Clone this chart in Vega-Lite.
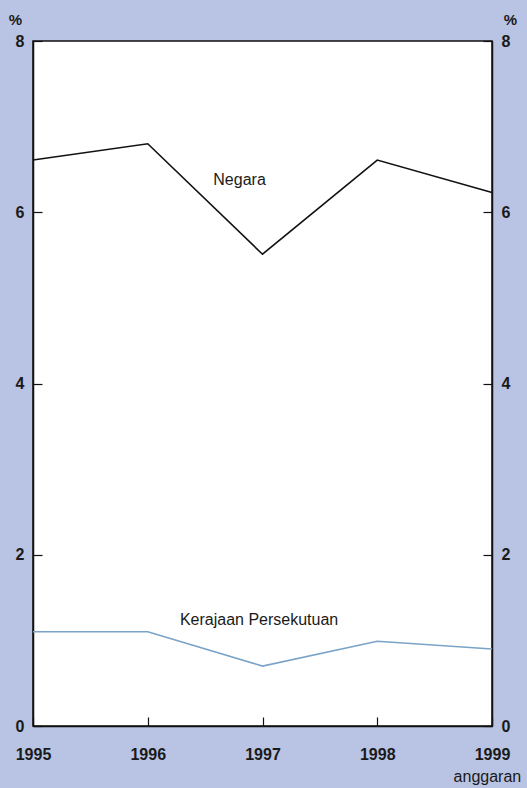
{
  "$schema": "https://vega.github.io/schema/vega-lite/v6.json",
  "width": 459,
  "height": 685,
  "autosize": {"type": "none"},
  "padding": {"left": 33, "top": 41, "right": 35, "bottom": 62},
  "background": "#b9c3e3",
  "config": {
    "view": {"fill": "white", "stroke": "#111", "strokeWidth": 1.5},
    "font": "Liberation Sans",
    "axis": {
      "grid": false,
      "domainColor": "#111",
      "domainWidth": 1.5,
      "tickColor": "#111",
      "tickWidth": 1.2,
      "tickSize": -9,
      "labelFont": "Liberation Sans",
      "labelFontSize": 16,
      "labelFontWeight": "bold",
      "labelColor": "#1a1a1a",
      "titleFont": "Liberation Sans",
      "titleFontSize": 15,
      "titleFontWeight": "bold",
      "titleColor": "#1a1a1a"
    }
  },
  "datasets": {
    "series": [
      {"series": "Negara", "year": 1995, "value": 6.61},
      {"series": "Negara", "year": 1996, "value": 6.8},
      {"series": "Negara", "year": 1997, "value": 5.51},
      {"series": "Negara", "year": 1998, "value": 6.61},
      {"series": "Negara", "year": 1999, "value": 6.23},
      {"series": "Kerajaan Persekutuan", "year": 1995, "value": 1.1},
      {"series": "Kerajaan Persekutuan", "year": 1996, "value": 1.1},
      {"series": "Kerajaan Persekutuan", "year": 1997, "value": 0.7},
      {"series": "Kerajaan Persekutuan", "year": 1998, "value": 0.99},
      {"series": "Kerajaan Persekutuan", "year": 1999, "value": 0.9}
    ],
    "labels": [
      {"text": "Negara", "x": 1996.8, "y": 6.38},
      {"text": "Kerajaan Persekutuan", "x": 1996.97, "y": 1.24},
      {"text": "anggaran", "x": 1998.96, "y": -0.6}
    ]
  },
  "layer": [
    {
      "data": {"name": "series"},
      "mark": {"type": "line", "strokeWidth": 1.6},
      "encoding": {
        "x": {
          "field": "year", "type": "quantitative",
          "scale": {"domain": [1995, 1999], "nice": false},
          "axis": {"title": null, "values": [1995, 1996, 1997, 1998, 1999], "format": "d", "labelPadding": 29, "labelFlush": false}
        },
        "y": {
          "field": "value", "type": "quantitative",
          "scale": {"domain": [0, 8], "nice": false},
          "axis": {"orient": "left", "values": [0, 2, 4, 6, 8], "title": "%", "titleAngle": 0, "titleX": -18, "titleY": -14, "titleAlign": "center", "titleBaseline": "bottom", "labelPadding": 18}
        },
        "color": {
          "field": "series", "type": "nominal",
          "scale": {"domain": ["Negara", "Kerajaan Persekutuan"], "range": ["#111111", "#7aa3c8"]},
          "legend": null
        }
      }
    },
    {
      "data": {"name": "series"},
      "mark": {"type": "line", "opacity": 0},
      "encoding": {
        "x": {"field": "year", "type": "quantitative", "scale": {"domain": [1995, 1999], "nice": false}},
        "y": {
          "field": "value", "type": "quantitative",
          "scale": {"domain": [0, 8], "nice": false},
          "axis": {"orient": "right", "values": [0, 2, 4, 6, 8], "title": "%", "titleAngle": 0, "titleX": 18, "titleY": -14, "titleAlign": "center", "titleBaseline": "bottom", "labelPadding": 18}
        },
        "detail": {"field": "series"}
      }
    },
    {
      "data": {"name": "labels"},
      "mark": {"type": "text", "fontSize": 16, "font": "Liberation Sans", "color": "#1a1a1a", "baseline": "middle"},
      "encoding": {
        "x": {"field": "x", "type": "quantitative"},
        "y": {"field": "y", "type": "quantitative", "scale": {"domain": [0, 8], "nice": false}, "axis": null},
        "text": {"field": "text"}
      }
    }
  ],
  "resolve": {"scale": {"y": "independent"}}
}
